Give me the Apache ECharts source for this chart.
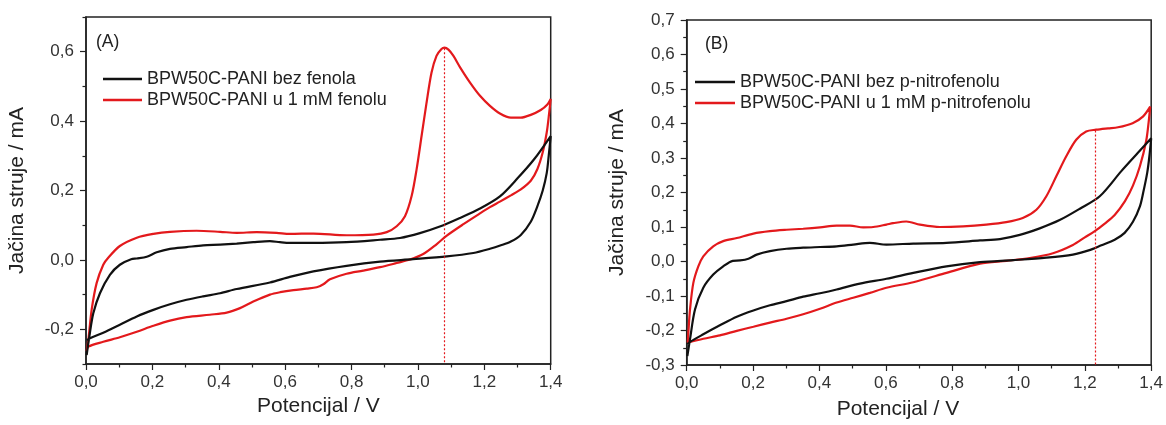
<!DOCTYPE html>
<html>
<head>
<meta charset="utf-8">
<script src="https://cdn.jsdelivr.net/npm/echarts@6/dist/echarts.min.js"></script>
<style>
html,body{margin:0;padding:0;background:#fff;}
#chart{width:1166px;height:425px;}
</style>
</head>
<body>
<div id="chart"></div>
<script>
// ---- data ----
const xTicks = [0, 0.2, 0.4, 0.6, 0.8, 1.0, 1.2, 1.4];
const yTicksA = [-0.2, 0, 0.2, 0.4, 0.6];
const yMinorA = [-0.3, -0.1, 0.1, 0.3, 0.5, 0.7];
const yTicksB = [-0.3, -0.2, -0.1, 0, 0.1, 0.2, 0.3, 0.4, 0.5, 0.6, 0.7];

const namesA = ['BPW50C-PANI bez fenola', 'BPW50C-PANI u 1 mM fenolu'];
const namesB = ['BPW50C-PANI bez p-nitrofenolu', 'BPW50C-PANI u 1 mM p-nitrofenolu'];

// panel A, without phenol (potential V, current mA)
const blackA = [[0.002,-0.274],[0.01,-0.221],[0.022,-0.154],[0.042,-0.096],[0.072,-0.043],[0.102,-0.014],[0.136,0.002],[0.153,0.004],[0.183,0.009],[0.213,0.022],[0.253,0.032],[0.303,0.037],[0.353,0.042],[0.404,0.044],[0.454,0.047],[0.504,0.051],[0.554,0.054],[0.584,0.051],[0.614,0.049],[0.685,0.049],[0.785,0.051],[0.886,0.058],[0.946,0.063],[1.006,0.077],[1.066,0.096],[1.127,0.121],[1.187,0.148],[1.247,0.183],[1.3,0.235],[1.35,0.29],[1.4,0.357],
  [1.394,0.3],[1.388,0.25],[1.376,0.2],[1.36,0.155],[1.34,0.11],[1.31,0.072],[1.28,0.053],[1.25,0.042],[1.217,0.032],[1.167,0.020],[1.087,0.010],[0.986,0.002],[0.886,-0.005],[0.785,-0.017],[0.685,-0.033],[0.614,-0.049],[0.554,-0.065],[0.454,-0.084],[0.404,-0.096],[0.353,-0.105],[0.303,-0.115],[0.253,-0.128],[0.203,-0.144],[0.153,-0.163],[0.102,-0.187],[0.052,-0.21],[0.012,-0.226],[0.003,-0.232]];
// panel A, 1 mM phenol
const redA = [[0.002,-0.262],[0.007,-0.231],[0.017,-0.144],[0.032,-0.067],[0.052,-0.014],[0.067,0.006],[0.102,0.040],[0.153,0.064],[0.203,0.075],[0.253,0.081],[0.333,0.084],[0.404,0.081],[0.454,0.078],[0.514,0.080],[0.574,0.078],[0.614,0.075],[0.685,0.076],[0.785,0.071],[0.866,0.073],[0.906,0.080],[0.936,0.097],[0.961,0.126],[0.981,0.184],[0.996,0.261],[1.011,0.357],[1.026,0.453],[1.041,0.540],[1.056,0.588],[1.071,0.608],[1.08,0.612],[1.092,0.606],[1.107,0.588],[1.127,0.555],[1.157,0.511],[1.187,0.473],[1.217,0.444],[1.247,0.422],[1.28,0.41],[1.31,0.41],[1.34,0.418],[1.37,0.432],[1.39,0.448],[1.4,0.464],
  [1.395,0.42],[1.388,0.367],[1.376,0.31],[1.36,0.262],[1.34,0.228],[1.31,0.203],[1.28,0.186],[1.247,0.168],[1.217,0.152],[1.187,0.134],[1.137,0.103],[1.087,0.07],[1.056,0.045],[1.016,0.017],[0.976,0.001],[0.936,-0.009],[0.886,-0.021],[0.835,-0.031],[0.785,-0.040],[0.735,-0.056],[0.715,-0.070],[0.695,-0.079],[0.665,-0.083],[0.625,-0.087],[0.585,-0.093],[0.554,-0.100],[0.504,-0.12],[0.464,-0.139],[0.424,-0.152],[0.373,-0.158],[0.303,-0.165],[0.253,-0.175],[0.203,-0.19],[0.153,-0.207],[0.102,-0.223],[0.052,-0.236],[0.007,-0.25],[0.002,-0.262]];
// panel B, without p-nitrophenol
const blackB = [[0.002,-0.274],[0.01,-0.225],[0.025,-0.139],[0.05,-0.076],[0.08,-0.038],[0.11,-0.014],[0.139,0.002],[0.161,0.003],[0.186,0.008],[0.211,0.02],[0.251,0.03],[0.301,0.037],[0.351,0.040],[0.402,0.042],[0.452,0.044],[0.502,0.049],[0.552,0.054],[0.602,0.049],[0.683,0.052],[0.783,0.054],[0.884,0.061],[0.944,0.065],[1.004,0.077],[1.064,0.096],[1.124,0.120],[1.185,0.153],[1.245,0.189],[1.31,0.262],[1.36,0.315],[1.4,0.357],
  [1.394,0.3],[1.388,0.257],[1.376,0.2],[1.366,0.16],[1.345,0.115],[1.32,0.083],[1.29,0.063],[1.25,0.047],[1.214,0.033],[1.164,0.020],[1.084,0.011],[0.984,0.004],[0.884,-0.002],[0.783,-0.014],[0.683,-0.033],[0.602,-0.05],[0.522,-0.064],[0.452,-0.081],[0.402,-0.092],[0.351,-0.102],[0.301,-0.115],[0.251,-0.127],[0.201,-0.142],[0.151,-0.16],[0.10,-0.185],[0.05,-0.211],[0.01,-0.233],[0.003,-0.24]];
// panel B, 1 mM p-nitrophenol
const redB = [[0.003,-0.235],[0.005,-0.206],[0.01,-0.139],[0.02,-0.062],[0.035,-0.014],[0.05,0.015],[0.08,0.044],[0.11,0.059],[0.151,0.068],[0.201,0.081],[0.251,0.088],[0.301,0.092],[0.351,0.095],[0.402,0.099],[0.452,0.104],[0.492,0.104],[0.532,0.099],[0.562,0.10],[0.602,0.107],[0.622,0.111],[0.662,0.116],[0.703,0.107],[0.763,0.100],[0.833,0.102],[0.903,0.107],[0.963,0.114],[1.013,0.126],[1.054,0.150],[1.084,0.189],[1.114,0.247],[1.144,0.305],[1.174,0.353],[1.204,0.377],[1.234,0.382],[1.27,0.386],[1.3,0.389],[1.344,0.401],[1.375,0.42],[1.397,0.449],
  [1.393,0.41],[1.385,0.35],[1.366,0.276],[1.345,0.22],[1.321,0.175],[1.29,0.135],[1.26,0.11],[1.23,0.088],[1.2,0.07],[1.164,0.048],[1.104,0.024],[1.034,0.010],[0.964,0.002],[0.884,-0.006],[0.783,-0.033],[0.683,-0.060],[0.602,-0.076],[0.552,-0.091],[0.502,-0.105],[0.452,-0.119],[0.402,-0.137],[0.351,-0.153],[0.301,-0.166],[0.251,-0.177],[0.201,-0.189],[0.151,-0.201],[0.10,-0.214],[0.05,-0.224],[0.003,-0.235]];

const peakA = [1.08, 0.61];
const peakB = [1.232, 0.38];

// ---- styling ----
const FONT = 'Liberation Sans, Arial, sans-serif';
const AX = '#222';
const RED = '#e3191c';
const BLK = '#111';
const fmt = v => (Math.round(v * 10) / 10).toFixed(1).replace('.', ',');

function xAxis(gi, padRight, gap) {
  return {
    gridIndex: gi, type: 'value', min: 0, max: 1.4, interval: 0.2,
    name: 'Potencijal / V', nameLocation: 'middle', nameGap: gap,
    nameTextStyle: { fontFamily: FONT, fontSize: 21, color: AX, padding: [0, padRight, 0, 0] },
    axisLine: { show: true, onZero: false, lineStyle: { color: AX, width: 1.5 } },
    axisTick: { show: true, length: 6, lineStyle: { color: AX, width: 1.2 } },
    minorTick: { show: true, splitNumber: 2, length: 3.5, lineStyle: { color: AX, width: 1.2 } },
    axisLabel: { fontFamily: FONT, fontSize: 17, color: '#333', margin: 10, formatter: fmt, customValues: xTicks },
    splitLine: { show: false }
  };
}

const yName = { fontFamily: FONT, fontSize: 21, color: AX };

function peakLine(p) {
  return {
    silent: true, symbol: 'none', label: { show: false },
    itemStyle: { color: RED },
    lineStyle: { color: RED, type: [2, 2], width: 1.2, opacity: 1 },
    emphasis: { disabled: true },
    data: [[{ coord: p }, { coord: [p[0], -0.3] }]]
  };
}

const option = {
  animation: false,
  backgroundColor: '#fff',
  textStyle: { fontFamily: FONT },
  title: [
    { text: '(A)', left: 96, top: 33, padding: 0, textStyle: { fontFamily: FONT, fontSize: 17.5, fontWeight: 'normal', color: AX } },
    { text: '(B)', left: 705, top: 35, padding: 0, textStyle: { fontFamily: FONT, fontSize: 17.5, fontWeight: 'normal', color: AX } }
  ],
  legend: [
    { data: namesA, left: 103, top: 70, orient: 'vertical', padding: 0, itemGap: 3, itemWidth: 39, itemHeight: 2.5, icon: 'rect', selectedMode: false,
      textStyle: { fontFamily: FONT, fontSize: 18, color: AX } },
    { data: namesB, left: 695, top: 73, orient: 'vertical', padding: 0, itemGap: 3, itemWidth: 40, itemHeight: 2.5, icon: 'rect', selectedMode: false,
      textStyle: { fontFamily: FONT, fontSize: 18, color: AX } }
  ],
  grid: [
    { left: 86, right: 615.3, top: 17, bottom: 61, show: true, borderColor: AX, borderWidth: 1.5, backgroundColor: 'transparent' },
    { left: 686.7, right: 14.3, top: 20, bottom: 59.5, show: true, borderColor: AX, borderWidth: 1.5, backgroundColor: 'transparent' }
  ],
  xAxis: [xAxis(0, 0, 31), xAxis(1, 42, 34)],
  yAxis: [
    { gridIndex: 0, type: 'value', min: -0.3, max: 0.7,
      name: 'Jačina struje / mA', nameLocation: 'middle', nameGap: 58, nameTextStyle: yName,
      axisLine: { show: true, onZero: false, lineStyle: { color: AX, width: 1.5 } },
      axisTick: { show: true, length: 6, customValues: yTicksA, lineStyle: { color: AX, width: 1.2 } },
      axisLabel: { fontFamily: FONT, fontSize: 17, color: '#333', margin: 12, formatter: fmt, customValues: yTicksA },
      splitLine: { show: false } },
    { gridIndex: 0, type: 'value', min: -0.3, max: 0.7, position: 'left',
      axisLine: { show: false },
      axisTick: { show: true, length: 3.5, customValues: yMinorA, lineStyle: { color: AX, width: 1.2 } },
      axisLabel: { show: false }, splitLine: { show: false } },
    { gridIndex: 1, type: 'value', min: -0.3, max: 0.7, interval: 0.1,
      name: 'Jačina struje / mA', nameLocation: 'middle', nameGap: 59, nameTextStyle: yName,
      axisLine: { show: true, onZero: false, lineStyle: { color: AX, width: 1.5 } },
      axisTick: { show: true, length: 6, lineStyle: { color: AX, width: 1.2 } },
      minorTick: { show: true, splitNumber: 2, length: 3.5, lineStyle: { color: AX, width: 1.2 } },
      axisLabel: { fontFamily: FONT, fontSize: 17, color: '#333', margin: 12, formatter: fmt, customValues: yTicksB },
      splitLine: { show: false } }
  ],
  series: [
    { name: namesA[0], type: 'line', xAxisIndex: 0, yAxisIndex: 0, data: blackA, smooth: 0.3, showSymbol: false, symbol: 'none',
      lineStyle: { color: BLK, width: 2.2 }, itemStyle: { color: BLK }, z: 3 },
    { name: namesA[1], type: 'line', xAxisIndex: 0, yAxisIndex: 0, data: redA, smooth: 0.3, showSymbol: false, symbol: 'none',
      lineStyle: { color: RED, width: 2.2 }, itemStyle: { color: RED }, z: 2, markLine: peakLine(peakA) },
    { name: namesB[0], type: 'line', xAxisIndex: 1, yAxisIndex: 2, data: blackB, smooth: 0.3, showSymbol: false, symbol: 'none',
      lineStyle: { color: BLK, width: 2.2 }, itemStyle: { color: BLK }, z: 3 },
    { name: namesB[1], type: 'line', xAxisIndex: 1, yAxisIndex: 2, data: redB, smooth: 0.3, showSymbol: false, symbol: 'none',
      lineStyle: { color: RED, width: 2.2 }, itemStyle: { color: RED }, z: 2, markLine: peakLine(peakB) }
  ]
};

const chart = echarts.init(document.getElementById('chart'), null, { renderer: 'canvas' });
chart.setOption(option);
</script>
</body>
</html>
